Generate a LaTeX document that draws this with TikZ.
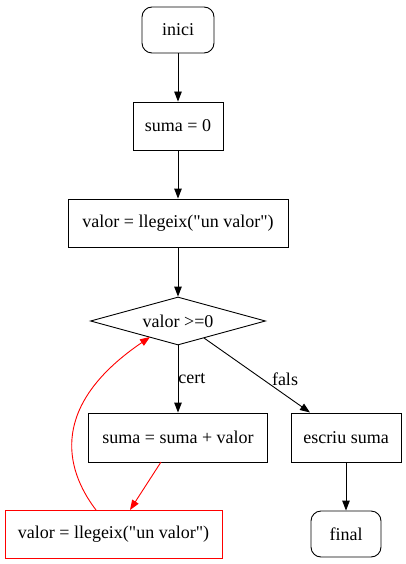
\documentclass[tikz,border=0pt]{standalone}
\usepackage{fontspec}
\setmainfont{Liberation Serif}
\usetikzlibrary{shapes.geometric,arrows.meta}
\begin{document}
\begin{tikzpicture}[x=1pt,y=-1pt,
  every node/.style={font=\fontsize{18}{21}\selectfont, inner sep=0pt},
  boxnode/.style={draw, line width=0.9pt, rectangle, minimum height=48pt},
  termnode/.style={draw, line width=0.9pt, rectangle, rounded corners=10pt, minimum height=46pt},
  decnode/.style={draw, line width=0.9pt, diamond, aspect=3.6, minimum width=175pt, minimum height=48pt},
  arr/.style={line width=0.9pt, -{Triangle[length=10pt,width=7.5pt]}},
  lab/.style={font=\fontsize{18}{21}\selectfont}]
\useasboundingbox (0,0) rectangle (406,564);
\node[termnode, minimum width=72pt] (inici) at (178,30) {inici};
\node[boxnode, minimum width=90pt] (s0) at (178,126) {suma = 0};
\node[boxnode, minimum width=220pt] (v1) at (178,223) {valor = llegeix(\textquotedbl un valor\textquotedbl)};
\node[decnode] (d) at (178,321) {valor >=0};
\node[boxnode, minimum width=179pt, minimum height=49pt] (sv) at (178,437.5) {suma = suma + valor};
\node[boxnode, minimum width=110pt, minimum height=49pt] (es) at (346,437.5) {escriu suma};
\node[boxnode, draw=red, minimum width=217pt] (v2) at (113.5,534) {valor = llegeix(\textquotedbl un valor\textquotedbl)};
\node[termnode, minimum width=70pt] (fin) at (346,534) {final};
\coordinate (dr) at (204,338);
\coordinate (esT) at (310,412.5);
\coordinate (svB) at (161,462);
\coordinate (v2T) at (130,510);
\coordinate (v2S) at (96,510);
\coordinate (dL) at (150,337);
\draw[arr] (inici) -- (s0);
\draw[arr] (s0) -- (v1);
\draw[arr] (v1) -- (d);
\draw[arr] (d) -- node[pos=0.5, anchor=west, lab] {cert} (sv);
\draw[arr] (dr) -- node[pos=0.5, xshift=28pt, yshift=-4pt, lab] {fals} (esT);
\draw[arr] (es) -- (fin);
\draw[arr, red] (svB) -- (v2T);
\draw[arr, red] (v2S) .. controls (64,468) and (50,405) .. (dL);
\end{tikzpicture}
\end{document}
